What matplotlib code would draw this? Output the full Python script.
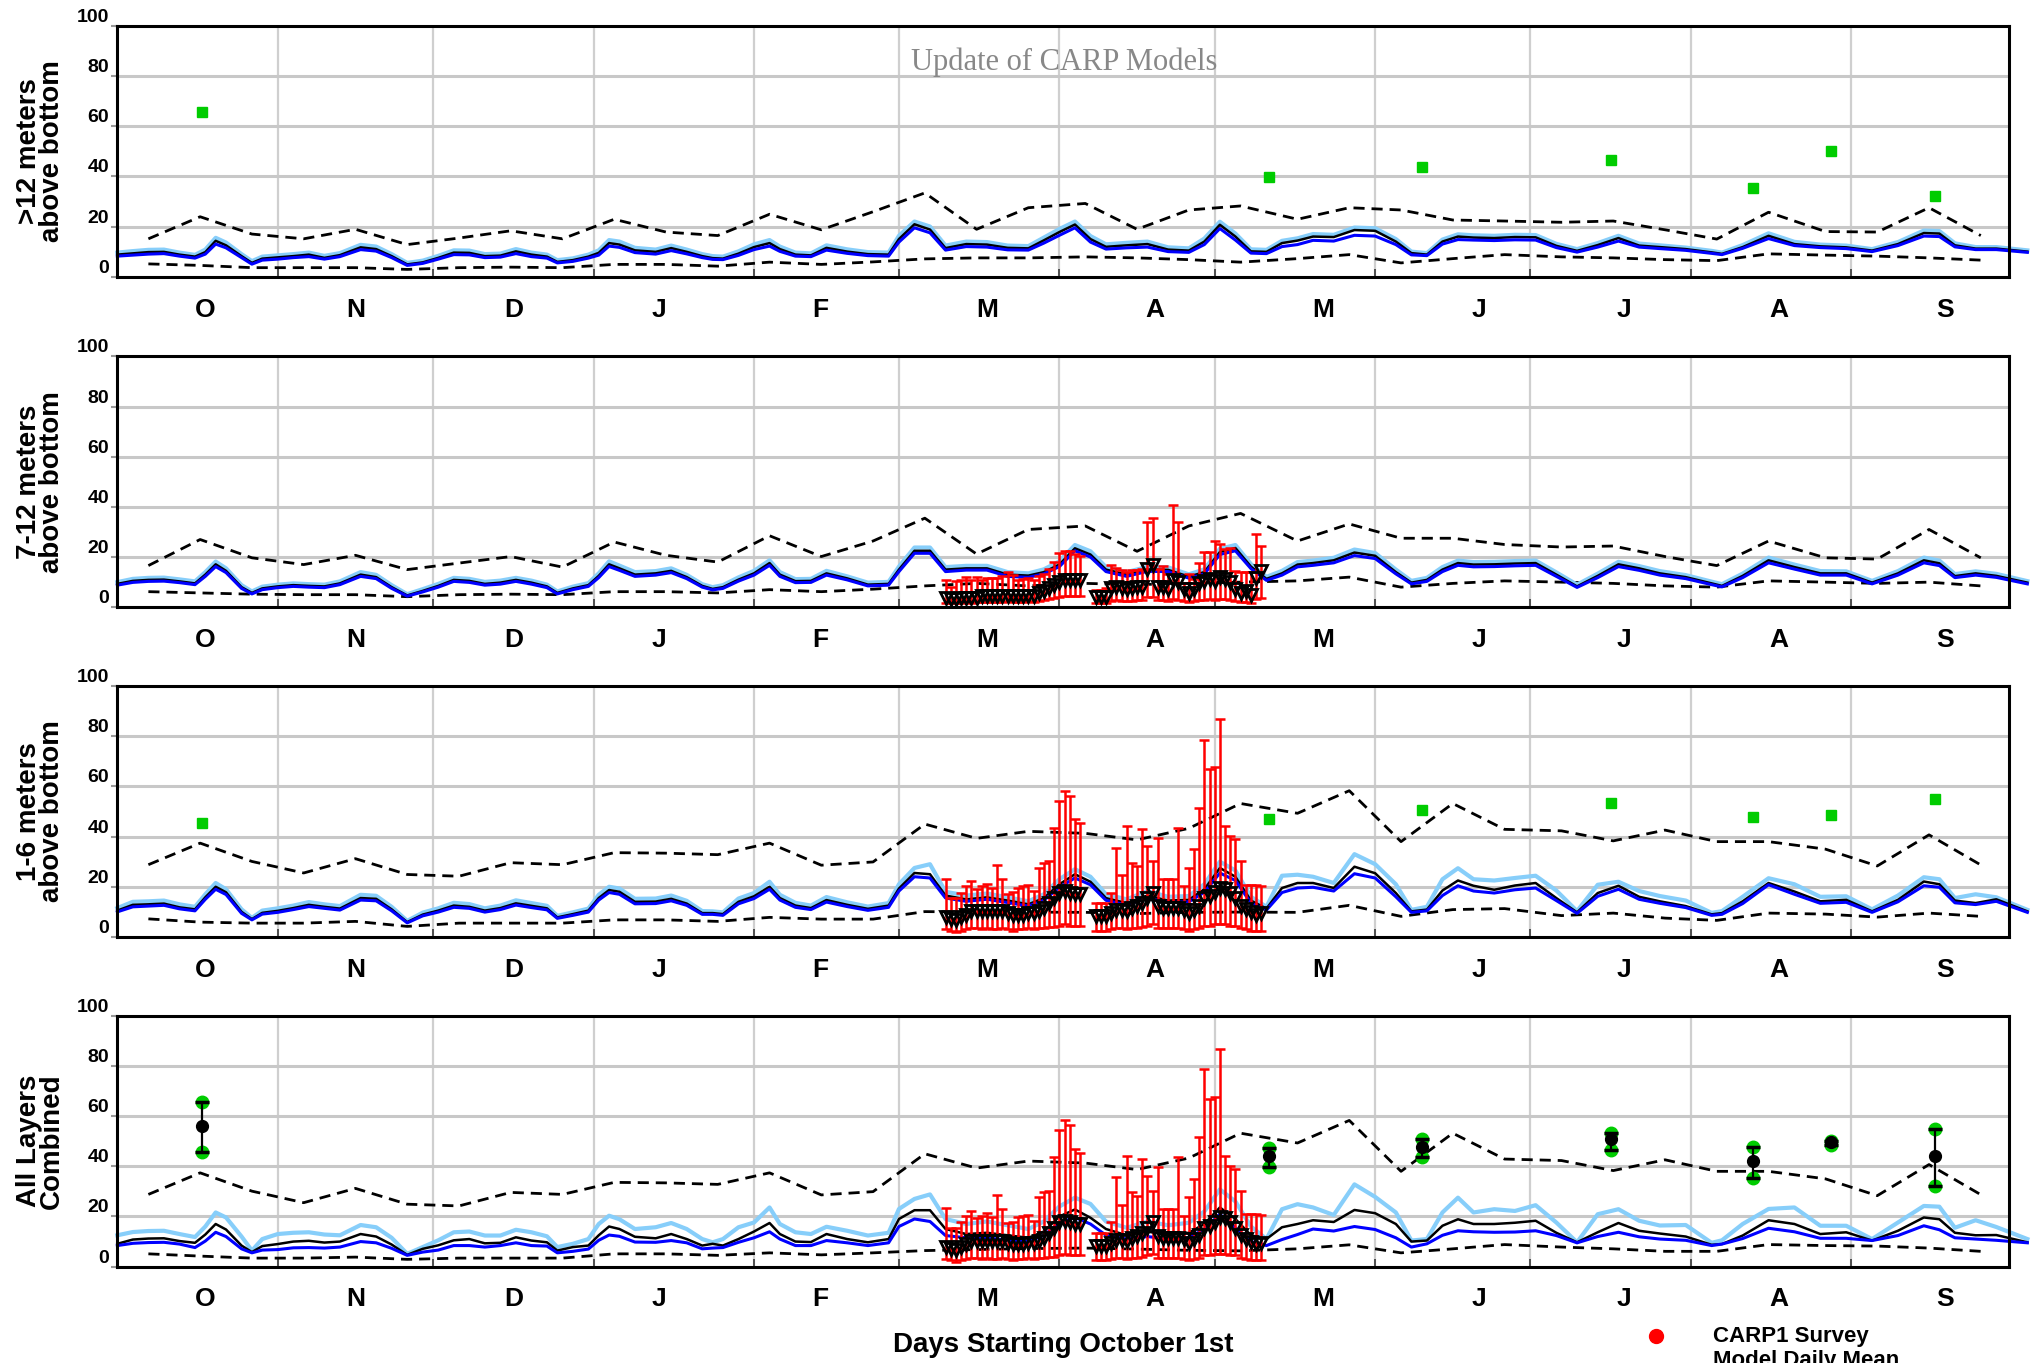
import matplotlib
matplotlib.use('Agg')
import matplotlib.pyplot as plt
import numpy as np
from matplotlib.lines import Line2D

plt.rcParams['font.family'] = ['Liberation Sans', 'DejaVu Sans']
plt.rcParams['font.weight'] = 'bold'

# ---- x axis: days starting October 1st ----
MONTHS = ['O', 'N', 'D', 'J', 'F', 'M', 'A', 'M', 'J', 'J', 'A', 'S']
MONTH_MID = [17, 46, 76.5, 104.6, 135.8, 168, 200.5, 233, 263, 291, 321, 353]
MONTH_START = [31, 61, 92, 123, 151, 182, 212, 243, 273, 304, 335]

# ---- daily model lines (sampled) ----
DAYS = [0, 3, 6, 9, 12, 15, 17, 19, 21, 24,
        26, 28, 31, 34, 37, 40, 43, 47, 50, 53,
        56, 59, 62, 65, 68, 71, 74, 77, 80, 83,
        85, 88, 91, 93, 95, 97, 100, 104, 107, 110,
        113, 115, 117, 120, 123, 126, 128, 131, 134, 137,
        141, 145, 149, 151, 154, 157, 160, 164, 168, 172,
        176, 179, 182, 185, 188, 191, 195, 199, 203, 207,
        210, 213, 216, 219, 222, 225, 228, 231, 235, 239,
        243, 247, 250, 253, 256, 259, 262, 266, 270, 274,
        278, 282, 286, 290, 294, 298, 303, 308, 310, 314,
        319, 324, 329, 334, 339, 344, 349, 352, 355, 359,
        363, 369]

# >12 m above bottom
P1_LIGHT = [9.6, 10.2, 10.7, 10.8, 9.6, 8.7, 10.8, 15.5, 13.6, 9.0,
            6.2, 8.0, 8.5, 9.0, 9.6, 8.3, 9.4, 12.7, 12.0, 9.0,
            5.5, 6.4, 8.3, 10.5, 10.4, 9.0, 9.2, 11.0, 9.6, 8.8,
            6.6, 7.3, 8.8, 10.5, 14.6, 14.0, 11.5, 10.8, 12.4, 10.8,
            9.0, 8.2, 8.0, 10.1, 12.9, 14.6, 12.0, 9.6, 9.3, 12.5,
            10.9, 9.8, 9.6, 16.3, 22.0, 20.0, 12.4, 14.0, 13.8, 12.4,
            12.2, 15.6, 19.0, 22.0, 16.2, 12.9, 13.5, 14.0, 11.7, 11.3,
            15.2, 21.9, 17.2, 10.9, 10.7, 14.3, 15.3, 17.0, 16.7, 19.6,
            19.3, 15.0, 10.0, 9.4, 14.8, 16.9, 16.5, 16.3, 16.7, 16.6,
            13.1, 11.0, 13.4, 16.3, 13.2, 12.5, 11.6, 10.3, 9.6, 12.6,
            17.3, 13.9, 12.8, 12.4, 11.0, 13.8, 18.4, 18.2, 13.3, 11.8,
            11.8, 10.5]
P1_MEAN = [8.8, 9.3, 9.8, 9.9, 8.8, 8.0, 9.8, 14.3, 12.5, 8.2,
           5.5, 7.2, 7.7, 8.2, 8.8, 7.5, 8.6, 11.7, 11.0, 8.2,
           4.9, 5.7, 7.5, 9.6, 9.5, 8.2, 8.4, 10.1, 8.8, 8.0,
           5.9, 6.6, 8.0, 9.5, 13.4, 12.8, 10.5, 9.9, 11.4, 9.9,
           8.2, 7.4, 7.2, 9.2, 11.8, 13.4, 11.0, 8.8, 8.5, 11.5,
           10.0, 9.0, 8.8, 15.0, 20.9, 18.8, 11.4, 13.0, 12.8, 11.5,
           11.3, 14.5, 17.8, 20.8, 15.0, 11.9, 12.5, 13.0, 10.8, 10.4,
           14.0, 20.7, 16.0, 10.1, 9.9, 13.4, 14.4, 16.0, 15.8, 18.6,
           18.3, 14.0, 9.4, 8.8, 14.0, 16.0, 15.6, 15.4, 15.8, 15.7,
           12.3, 10.3, 12.6, 15.4, 12.4, 11.8, 11.0, 9.7, 9.1, 11.8,
           16.3, 13.0, 12.1, 11.7, 10.4, 13.0, 17.4, 17.2, 12.5, 11.2,
           11.2, 10.0]
P1_DARK = [8.2, 8.6, 9.0, 9.2, 8.2, 7.4, 9.0, 13.0, 11.5, 7.6,
           5.0, 6.6, 7.0, 7.6, 8.0, 7.0, 8.0, 10.8, 10.2, 7.6,
           4.5, 5.3, 7.0, 8.8, 8.7, 7.6, 7.8, 9.2, 8.0, 7.4,
           5.5, 6.1, 7.4, 8.6, 12.2, 11.7, 9.6, 9.0, 10.4, 9.1,
           7.6, 6.9, 6.8, 8.5, 10.8, 12.2, 10.1, 8.2, 8.0, 10.6,
           9.3, 8.4, 8.2, 13.8, 19.5, 17.5, 10.6, 12.0, 11.8, 10.7,
           10.6, 13.4, 16.5, 19.5, 13.8, 11.0, 11.5, 11.8, 10.0, 9.7,
           12.8, 19.2, 14.6, 9.4, 9.2, 12.0, 12.8, 14.5, 14.2, 16.5,
           16.2, 12.8, 8.7, 8.4, 13.0, 14.8, 14.6, 14.4, 14.7, 14.6,
           11.6, 9.8, 11.8, 14.2, 11.8, 11.2, 10.5, 9.3, 8.8, 11.3,
           15.2, 12.4, 11.6, 11.2, 10.0, 12.4, 16.2, 16.0, 11.9, 10.8,
           10.8, 9.7]

# 7-12 m above bottom
P2_LIGHT = [10.0, 11.3, 11.7, 11.8, 11.1, 10.3, 14.0, 18.2, 15.5, 8.8,
            6.3, 8.2, 9.0, 9.5, 9.2, 9.0, 10.3, 14.0, 12.9, 8.8,
            5.2, 7.2, 9.3, 11.7, 11.3, 10.1, 10.6, 11.7, 10.6, 9.0,
            6.3, 8.2, 9.6, 13.5, 18.3, 16.6, 14.0, 14.4, 15.5, 12.9,
            9.2, 8.0, 8.8, 11.9, 14.5, 18.7, 14.0, 11.2, 11.3, 14.5,
            12.3, 9.8, 10.1, 16.2, 23.8, 23.8, 16.0, 16.5, 16.5, 14.0,
            13.5, 15.1, 18.3, 24.8, 22.3, 16.0, 14.0, 16.1, 15.9, 13.1,
            15.1, 23.3, 24.8, 17.2, 12.1, 14.5, 18.0, 18.6, 19.7, 23.0,
            21.6, 15.0, 10.5, 11.7, 16.0, 18.6, 18.0, 18.1, 18.4, 18.6,
            13.9, 9.0, 13.4, 18.1, 16.4, 14.4, 12.8, 10.2, 9.2, 13.4,
            19.8, 17.0, 14.4, 14.3, 10.5, 14.4, 19.8, 18.6, 13.2, 14.3,
            13.3, 10.4]
P2_MEAN = [9.3, 10.5, 10.9, 11.0, 10.3, 9.5, 13.0, 17.1, 14.5, 8.0,
           5.7, 7.5, 8.3, 8.8, 8.5, 8.3, 9.5, 13.0, 12.0, 8.0,
           4.7, 6.5, 8.5, 10.9, 10.5, 9.3, 9.8, 10.9, 9.8, 8.3,
           5.7, 7.5, 8.8, 12.5, 17.1, 15.5, 13.0, 13.5, 14.5, 12.0,
           8.5, 7.3, 8.0, 11.0, 13.5, 17.6, 13.0, 10.4, 10.5, 13.5,
           11.5, 9.0, 9.3, 15.0, 22.5, 22.5, 15.0, 15.5, 15.5, 13.0,
           12.6, 14.0, 17.0, 23.5, 21.0, 15.0, 13.0, 15.0, 14.9, 12.2,
           14.0, 22.0, 23.6, 16.2, 11.3, 13.5, 17.0, 17.6, 18.7, 21.8,
           20.5, 14.0, 9.8, 10.9, 15.0, 17.6, 17.0, 17.1, 17.4, 17.6,
           13.0, 8.3, 12.5, 17.1, 15.5, 13.5, 12.0, 9.5, 8.5, 12.5,
           18.7, 16.0, 13.5, 13.5, 9.8, 13.5, 18.7, 17.5, 12.4, 13.5,
           12.5, 9.8]
P2_DARK = [8.8, 9.9, 10.3, 10.4, 9.8, 9.0, 12.3, 16.2, 13.8, 7.5,
           5.3, 7.0, 7.8, 8.3, 8.0, 7.8, 9.0, 12.3, 11.4, 7.5,
           4.4, 6.1, 8.0, 10.3, 9.9, 8.8, 9.2, 10.3, 9.2, 7.8,
           5.3, 7.0, 8.3, 11.8, 16.2, 14.7, 12.3, 12.8, 13.8, 11.4,
           8.0, 6.9, 7.5, 10.4, 12.8, 16.7, 12.3, 9.8, 9.9, 12.8,
           10.9, 8.5, 8.8, 14.2, 21.5, 21.5, 14.2, 14.8, 14.8, 12.3,
           11.9, 13.3, 16.2, 22.5, 20.0, 14.2, 12.3, 14.3, 14.2, 11.6,
           13.3, 21.0, 22.5, 15.4, 10.7, 12.8, 16.1, 16.7, 17.7, 20.6,
           19.4, 13.3, 9.3, 10.3, 14.2, 16.7, 16.1, 16.2, 16.5, 16.7,
           12.3, 7.9, 11.8, 16.2, 14.7, 12.8, 11.4, 9.0, 8.1, 11.8,
           17.7, 15.2, 12.8, 12.8, 9.3, 12.8, 17.7, 16.6, 11.8, 12.8,
           11.9, 9.3]

# 1-6 m above bottom
P3_LIGHT = [11.5, 14.0, 14.2, 14.5, 13.0, 12.0, 17.0, 21.5, 19.0, 11.0,
            7.6, 10.5, 11.4, 12.5, 13.9, 13.0, 12.3, 16.8, 16.4, 12.0,
            6.4, 9.7, 11.4, 13.6, 13.1, 11.4, 12.5, 14.6, 13.5, 12.4,
            8.4, 9.8, 11.3, 16.8, 20.0, 19.3, 15.2, 15.3, 16.5, 14.4,
            10.3, 10.2, 9.8, 15.3, 17.5, 22.0, 16.8, 13.6, 12.5, 15.9,
            13.8, 12.1, 13.5, 21.0, 27.5, 29.0, 18.0, 16.5, 17.3, 15.8,
            14.2, 17.0, 23.0, 27.0, 24.0, 17.0, 15.0, 18.3, 16.0, 16.3,
            21.0, 30.0, 26.5, 16.0, 12.0, 24.4, 24.8, 24.0, 21.5, 33.0,
            29.0, 21.0, 10.8, 12.0, 23.0, 27.4, 23.0, 22.5, 23.5, 24.4,
            18.5, 10.3, 20.8, 22.0, 18.3, 16.3, 14.5, 9.6, 10.3, 16.0,
            23.4, 21.0, 16.0, 16.2, 11.0, 16.5, 23.8, 23.0, 15.5, 17.0,
            15.8, 10.8]
P3_MEAN = [10.5, 12.8, 13.0, 13.3, 11.8, 11.0, 15.8, 20.0, 17.8, 10.0,
           7.1, 9.6, 10.4, 11.5, 12.8, 12.0, 11.3, 15.5, 15.2, 11.0,
           5.9, 8.9, 10.5, 12.5, 12.0, 10.5, 11.5, 13.4, 12.4, 11.4,
           7.8, 9.1, 10.5, 15.5, 18.7, 18.0, 14.0, 14.1, 15.2, 13.3,
           9.5, 9.5, 9.1, 14.0, 16.2, 20.0, 15.5, 12.5, 11.5, 14.7,
           12.8, 11.2, 12.5, 19.3, 25.5, 25.0, 16.5, 15.0, 15.8, 14.5,
           13.0, 15.5, 21.0, 25.0, 22.0, 15.5, 13.5, 16.5, 14.5, 14.8,
           19.0, 27.5, 24.0, 14.5, 11.3, 19.5, 21.5, 21.5, 19.5, 28.0,
           25.4, 17.5, 10.2, 10.9, 18.5, 22.5, 20.4, 18.8, 20.5, 21.5,
           15.5, 9.8, 17.5, 20.4, 16.0, 14.2, 12.3, 9.0, 9.5, 14.2,
           21.5, 18.1, 14.2, 14.8, 10.2, 14.8, 22.1, 21.0, 14.5, 13.5,
           15.0, 10.2]
P3_DARK = [10.0, 12.0, 12.3, 12.6, 11.2, 10.4, 15.0, 19.0, 16.9, 9.4,
           6.8, 9.1, 9.8, 10.9, 12.1, 11.4, 10.7, 14.7, 14.4, 10.4,
           5.6, 8.4, 9.9, 11.8, 11.4, 9.9, 10.9, 12.7, 11.7, 10.8,
           7.4, 8.6, 9.9, 14.7, 17.7, 17.0, 13.2, 13.3, 14.4, 12.6,
           9.0, 9.0, 8.6, 13.2, 15.3, 19.0, 14.7, 11.8, 10.9, 13.9,
           12.1, 10.6, 11.8, 18.3, 24.0, 23.5, 15.5, 14.2, 15.0, 13.7,
           12.3, 14.6, 19.8, 23.5, 20.8, 14.6, 12.7, 15.5, 13.7, 14.0,
           17.8, 25.5, 22.5, 13.5, 10.7, 17.7, 19.5, 19.8, 18.3, 25.2,
           23.5, 16.0, 9.8, 10.4, 16.5, 20.4, 18.3, 17.5, 18.8, 19.5,
           14.5, 9.4, 16.2, 19.0, 15.0, 13.4, 11.7, 8.6, 9.0, 13.3,
           20.8, 17.0, 13.4, 13.8, 9.8, 14.0, 20.4, 19.8, 13.6, 12.9,
           14.2, 9.8]

# all layers combined
P4_LIGHT = [12.5, 13.8, 14.2, 14.3, 13.0, 11.8, 16.0, 21.6, 19.6, 12.0,
            6.4, 11.0, 13.0, 13.5, 13.7, 12.8, 12.5, 16.6, 15.7, 11.5,
            5.1, 7.8, 10.5, 13.7, 14.0, 12.4, 12.4, 14.7, 13.7, 12.1,
            7.8, 9.1, 11.0, 17.0, 20.3, 18.9, 15.0, 15.7, 17.4, 15.0,
            11.0, 9.7, 11.0, 15.7, 17.6, 23.6, 17.0, 13.7, 13.0, 15.9,
            14.3, 12.4, 13.5, 23.0, 27.0, 28.8, 19.0, 17.0, 18.0, 16.5,
            15.0, 18.0, 24.0, 27.5, 25.0, 18.0, 15.5, 18.0, 16.5, 17.5,
            22.0, 30.8, 26.0, 16.0, 11.0, 22.9, 24.9, 23.6, 20.6, 32.8,
            27.8, 21.6, 10.4, 11.0, 21.6, 27.5, 21.6, 22.9, 22.2, 24.5,
            17.6, 9.7, 20.9, 22.9, 18.3, 16.4, 16.6, 9.5, 10.5, 17.0,
            23.0, 23.6, 16.3, 16.3, 11.0, 17.6, 24.2, 23.9, 15.5, 18.5,
            15.8, 11.0]
P4_MEAN = [9.1, 10.8, 11.2, 11.3, 10.2, 9.5, 12.8, 17.0, 14.8, 8.4,
           5.8, 8.2, 9.0, 10.0, 10.3, 9.6, 10.0, 13.0, 12.0, 8.8,
           4.7, 7.1, 8.5, 10.5, 11.0, 9.3, 9.5, 11.7, 10.4, 9.7,
           6.4, 7.8, 8.4, 12.5, 16.0, 15.0, 11.9, 11.3, 13.0, 11.0,
           8.4, 9.1, 8.4, 11.0, 14.0, 17.4, 13.0, 10.0, 9.8, 13.0,
           11.0, 9.7, 11.0, 19.0, 22.5, 22.5, 15.0, 13.0, 13.5, 12.5,
           11.5, 14.0, 20.0, 22.8, 19.5, 15.0, 12.5, 14.0, 12.5, 13.5,
           17.0, 23.6, 19.0, 12.5, 11.0, 15.7, 17.0, 18.5, 17.8, 22.6,
           21.3, 17.0, 10.0, 10.4, 16.3, 18.9, 17.0, 17.0, 17.5, 18.3,
           13.5, 9.7, 13.7, 17.4, 14.3, 13.2, 12.0, 8.7, 9.0, 12.4,
           18.5, 17.0, 13.0, 13.7, 10.4, 14.3, 19.6, 18.9, 13.5, 12.5,
           12.6, 9.7]
P4_DARK = [8.4, 9.3, 9.6, 9.7, 9.0, 7.6, 10.2, 13.7, 12.0, 7.1,
           5.5, 6.6, 6.8, 7.5, 7.6, 7.4, 7.8, 10.0, 9.5, 7.3,
           4.5, 5.8, 6.6, 8.4, 8.4, 7.8, 8.4, 9.5, 8.4, 8.2,
           5.5, 6.1, 7.0, 10.5, 12.6, 12.1, 9.8, 9.7, 10.4, 9.5,
           7.1, 7.4, 7.6, 9.7, 11.5, 13.9, 11.0, 8.4, 8.4, 10.4,
           9.5, 8.4, 9.5, 16.0, 19.0, 18.0, 12.4, 11.5, 11.5, 10.5,
           10.0, 12.5, 17.5, 19.6, 17.0, 12.5, 11.0, 12.0, 11.0, 11.5,
           15.0, 20.9, 15.5, 10.0, 8.4, 10.8, 12.8, 15.0, 14.2, 16.0,
           14.8, 11.5, 7.8, 9.1, 12.5, 14.3, 13.9, 13.7, 13.8, 14.3,
           12.4, 9.5, 12.0, 13.7, 11.9, 11.0, 10.5, 8.4, 9.0, 11.2,
           15.3, 13.9, 11.3, 11.3, 10.4, 12.4, 16.3, 14.7, 11.5, 11.0,
           10.5, 9.5]

# ---- dashed envelope lines ----
ENV_DAYS = [6, 16, 26, 36, 46, 56, 66, 76, 86, 96, 106, 116, 126, 136, 146, 156, 166, 176,
            187, 197, 207, 217, 228, 238, 248, 258, 268, 279, 289, 299, 309, 319, 330, 340, 350, 360]
P1_UPPER = [15.1, 23.9, 17, 15.1, 18.9, 12.8, 15.4, 18.3, 15.1, 22.9, 17.8, 16.4, 24.9, 18.7, 25.9, 33.4, 18.9, 27.5,
            29.2, 18.9, 26.6, 28.2, 22.9, 27.5, 26.6, 22.6, 22.2, 21.7, 22.2, 18.7, 15.0, 25.7, 18.0, 17.8, 27.5, 16.4]
P1_LOWER = [5.1, 4.5, 3.6, 3.6, 3.6, 2.9, 3.6, 3.8, 3.6, 4.9, 4.9, 4.2, 5.8, 4.9, 5.9, 7.1, 7.5, 7.5,
            7.9, 7.5, 6.8, 5.8, 7.2, 8.8, 5.5, 7.2, 8.8, 7.9, 7.5, 6.8, 6.4, 9.1, 8.6, 8.2, 7.5, 6.6]
P2_UPPER = [16.6, 27, 19.7, 17, 20.7, 15, 17.6, 20.2, 16, 26, 20.7, 18, 28.5, 20.2, 26.4, 35.5, 21.2, 31,
            32.4, 22.3, 32.4, 37.4, 26.4, 33.2, 27.5, 27.5, 25, 24, 24.4, 20.2, 16.6, 26.4, 19.7, 19.2, 31, 19.7]
P2_LOWER = [6.2, 5.7, 5.2, 5.0, 5.0, 4.2, 5.0, 5.2, 5.0, 6.2, 6.2, 5.7, 7.0, 6.2, 7.2, 8.5, 9.5, 8.5,
            9.5, 9.0, 9.5, 10.0, 10.5, 12.0, 8.0, 9.5, 10.5, 10.0, 9.5, 8.5, 8.0, 10.5, 10.0, 9.5, 10.0, 8.5]
P3_UPPER = [28.8, 37.4, 30.1, 25.5, 31.2, 24.9, 24.2, 29.6, 28.8, 33.6, 33.4, 32.8, 37.4, 28.6, 29.9, 45.0, 39.3, 42.1,
            41.3, 38.7, 43.3, 53.2, 49.3, 58.3, 38.0, 53.2, 42.9, 42.3, 38.3, 42.6, 38.0, 38.0, 35.0, 28.3, 40.7, 28.7]
P3_LOWER = [7.2, 5.9, 5.5, 5.5, 6.2, 4.2, 5.5, 5.5, 5.5, 6.8, 6.8, 6.2, 7.8, 7.1, 7.1, 10.1, 9.9, 9.9,
            9.8, 9.3, 9.8, 9.9, 9.8, 12.6, 8.2, 10.9, 11.3, 8.5, 9.5, 7.5, 6.6, 9.5, 9.1, 7.9, 9.5, 8.2]
P4_LOWER = [5.1, 4.2, 3.4, 3.4, 3.8, 2.9, 3.4, 3.4, 3.4, 5.1, 5.1, 4.5, 5.5, 4.7, 5.5, 6.4, 6.8, 7.2,
            7.4, 7.0, 6.5, 6.3, 7.1, 8.7, 5.5, 7.1, 8.8, 7.8, 7.1, 6.1, 6.1, 8.8, 8.4, 8.2, 7.4, 6.1]

# ---- CARP1 survey (daily, with ranges) ----
SURVEY_DAYS = [160, 161, 162, 163, 164, 165, 166, 167, 168, 169, 170, 171, 172, 173, 174, 175, 176, 177,
               178, 179, 180, 181, 182, 183, 184, 185, 186,
               189, 190, 191, 192, 193, 194, 195, 196, 197, 198, 199, 200, 201, 202, 203, 204, 205, 206,
               207, 208, 209, 210, 211, 212, 213, 214, 215, 216, 217, 218, 219, 220, 221]
S2_MEAN = [3.8, 3.4, 3.4, 3.8, 3.8, 3.8, 3.8, 4.5, 4.5, 4.5, 4.5, 4.5, 4.5, 4.5, 4.5, 4.5, 4.5, 4.5,
           5.6, 6.5, 7.5, 8.8, 9.9, 11.0, 11.0, 11.0, 11.0,
           4.2, 4.2, 4.2, 7.8, 8.2, 7.8, 7.1, 7.8, 8.2, 8.2, 15.3, 16.7, 8.2, 8.2, 7.3, 11.0, 10.2, 7.1,
           5.8, 7.3, 9.5, 10.5, 11.2, 10.5, 11.9, 11.2, 9.9, 7.1, 5.8, 6.4, 5.0, 11.5, 14.6]
S2_HIGH = [11, 8, 10.5, 11, 12.2, 11, 12.2, 10.9, 11.6, 11.6, 11.6, 12.6, 14.2, 12.9, 11, 11.3, 11.7, 11,
           12.6, 13.3, 15.2, 18.2, 21.8, 22.4, 22.4, 21.4, 20.4,
           7, 6.8, 7.7, 17, 15.7, 15, 14, 15, 15, 15.3, 33.8, 35.4, 15.3, 16.3, 13.4, 40.6, 33.8, 9.8,
           13.4, 11.2, 17.6, 21.9, 21.9, 26.3, 25.3, 23.3, 23.5, 14.6, 14.2, 14.2, 14.2, 29, 24.4]
S2_LOW = [1.8, 1.5, 1.6, 1.8, 2.0, 1.8, 2.0, 2.2, 2.0, 2.2, 2.0, 2.2, 2.4, 2.2, 2.0, 2.2, 2.4, 2.2,
          2.6, 3.0, 3.2, 3.6, 4.2, 4.6, 4.6, 4.4, 4.4,
          1.6, 1.6, 1.8, 2.6, 2.8, 2.6, 2.4, 2.6, 2.8, 2.8, 4.0, 4.2, 2.8, 2.8, 2.5, 3.2, 3.0, 2.4,
          2.0, 2.4, 2.8, 3.0, 3.2, 3.0, 3.4, 3.2, 3.0, 2.4, 2.0, 2.2, 1.8, 3.2, 3.8]
S3_MEAN = [8.0, 7.2, 6.7, 8.0, 8.9, 10.3, 10.3, 10.3, 10.3, 10.3, 10.3, 10.3, 9.6, 8.9, 8.9, 8.9, 9.6, 9.6,
           10.3, 11.6, 13.6, 15.6, 17.6, 18.3, 17.6, 17.0, 17.0,
           8.3, 8.3, 8.3, 9.6, 10.7, 10.7, 10.3, 11.6, 12.3, 13.6, 15.6, 17.6, 12.3, 11.6, 11.6, 11.6, 11.6, 10.9,
           9.6, 10.9, 12.5, 15.6, 16.3, 17.9, 19.6, 19.2, 17.6, 15.6, 12.5, 11.2, 9.8, 8.9, 9.6]
S3_HIGH = [23.2, 15.6, 15.6, 17.6, 20.3, 22.3, 19.2, 20.3, 21.3, 19.6, 28.5, 22.9, 17.3, 17.9, 19.6, 20.3, 20.6, 18.3,
           27.6, 29.6, 30.3, 43.6, 54.3, 58.3, 56.3, 46.9, 45.3,
           13.6, 13.6, 13.6, 17.6, 35.6, 24.5, 44.3, 29.6, 28.3, 42.9, 36.3, 30.3, 39.6, 22.9, 22.9, 22.9, 43.6, 20.3,
           27.6, 34.9, 51.6, 78.7, 67.0, 67.6, 86.9, 44.3, 40.3, 38.9, 30.3, 20.9, 20.9, 20.9, 20.5]
S3_LOW = [3.0, 2.5, 2.0, 2.5, 3.0, 3.5, 3.5, 3.0, 3.5, 3.0, 3.0, 3.5, 3.0, 2.5, 3.0, 3.0, 3.5, 3.0,
          3.5, 3.5, 4.0, 4.0, 4.5, 5.0, 4.5, 4.5, 4.5,
          2.5, 2.5, 2.5, 3.0, 3.5, 3.5, 3.0, 3.5, 3.5, 4.0, 4.5, 5.0, 3.5, 3.5, 3.5, 3.5, 3.5, 3.0,
          2.5, 3.0, 3.5, 4.5, 4.5, 5.0, 5.0, 5.0, 4.5, 4.5, 3.5, 3.0, 2.5, 2.5, 2.5]

# ---- layer estimates (green) and combined ----
EST_DAYS = [16.4, 222.5, 252, 288.5, 316, 331, 351.2]
EST_TOP = [65.6, 39.6, 43.75, 46.4, 35.4, 50.0, 32.3]
EST_BOTTOM = [45.6, 47.2, 50.8, 53.4, 47.7, 48.7, 54.9]
EST_COMBINED = [56.0, 44.3, 47.9, 51.0, 42.2, 49.7, 44.3]

LABELS = ['>12 meters\nabove bottom', '7-12 meters\nabove bottom',
          '1-6 meters\nabove bottom', 'All Layers\nCombined']

GREEN = '#00CC00'
LIGHT = '#87CEFA'


def setup_axes(ax):
    ax.set_xlim(0, 365.5)
    ax.set_ylim(0, 100)
    ax.set_yticks([0, 20, 40, 60, 80, 100])
    ax.set_xticks(MONTH_MID)
    ax.set_xticklabels(MONTHS)
    ax.set_xticks(MONTH_START, minor=True)
    ax.set_axisbelow(True)
    ax.grid(True, which='minor', axis='x', color='#cfcfcf', lw=1.6)
    ax.grid(True, which='major', axis='y', color='#c8c8c8', lw=2.2)
    ax.tick_params(axis='x', which='major', length=0, pad=15, labelsize=19)
    ax.tick_params(axis='x', which='minor', direction='in', length=6, width=1.3, color='#444444')
    ax.tick_params(axis='y', length=4, width=1.5, color='#999999', pad=2, labelsize=14)
    for lab in ax.get_yticklabels():
        lab.set_va('bottom')
    for s in ax.spines.values():
        s.set_linewidth(2.2)


def draw_model(ax, light, mean, dark, upper, lower):
    ax.plot(ENV_DAYS, upper, color='black', lw=2, dashes=(4, 2.5))
    ax.plot(ENV_DAYS, lower, color='black', lw=2, dashes=(4, 2.5))
    ax.plot(DAYS, light, color=LIGHT, lw=3.0, clip_on=False)
    ax.plot(DAYS, mean, color='black', lw=1.8, clip_on=False)
    ax.plot(DAYS, dark, color='#0000FF', lw=2.2, clip_on=False)


def draw_survey(ax, mean, low, high):
    mean = np.array(mean)
    err = [mean - np.array(low), np.array(high) - mean]
    ax.errorbar(SURVEY_DAYS, mean, yerr=err, fmt='none', ecolor='red',
                elinewidth=1.8, capsize=3.5, capthick=1.8)
    ax.plot(SURVEY_DAYS, mean, 'v', mfc='none', mec='black', mew=2, ms=8.5, ls='none')


fig = plt.figure(figsize=(20.44, 13.63), dpi=100)
left, width, height = 0.0574, 0.9256, 0.184
bottoms = [0.797, 0.5545, 0.3126, 0.0707]
axes = [fig.add_axes([left, b, width, height]) for b in bottoms]
for ax in axes:
    setup_axes(ax)

draw_model(axes[0], P1_LIGHT, P1_MEAN, P1_DARK, P1_UPPER, P1_LOWER)
axes[0].plot(EST_DAYS, EST_TOP, 's', color=GREEN, ms=6.5, ls='none')

draw_model(axes[1], P2_LIGHT, P2_MEAN, P2_DARK, P2_UPPER, P2_LOWER)
draw_survey(axes[1], S2_MEAN, S2_LOW, S2_HIGH)

draw_model(axes[2], P3_LIGHT, P3_MEAN, P3_DARK, P3_UPPER, P3_LOWER)
draw_survey(axes[2], S3_MEAN, S3_LOW, S3_HIGH)
axes[2].plot(EST_DAYS, EST_BOTTOM, 's', color=GREEN, ms=6.5, ls='none')

draw_model(axes[3], P4_LIGHT, P4_MEAN, P4_DARK, P3_UPPER, P4_LOWER)
draw_survey(axes[3], S3_MEAN, S3_LOW, S3_HIGH)
comb = np.array(EST_COMBINED)
lo = np.minimum(EST_TOP, EST_BOTTOM)
hi = np.maximum(EST_TOP, EST_BOTTOM)
axes[3].plot(EST_DAYS, EST_TOP, 'o', color=GREEN, ms=9, ls='none')
axes[3].plot(EST_DAYS, EST_BOTTOM, 'o', color=GREEN, ms=9, ls='none')
axes[3].errorbar(EST_DAYS, comb, yerr=[comb - lo, hi - comb], fmt='o', color='black',
                 ms=8.5, elinewidth=1.6, capsize=5, capthick=2.5)

for b, lab in zip(bottoms, LABELS):
    fig.text(0.0198, b + height / 2, lab, rotation=90, ha='center', va='center',
             fontsize=20, linespacing=0.88, multialignment='center')

fig.text(0.5204, 0.954, 'Update of CARP Models', ha='center', va='center', fontsize=22,
         fontweight='normal', color='#888888', family=['Liberation Serif', 'DejaVu Serif'])
fig.text(0.5204, 0.0134, 'Days Starting October 1st', ha='center', va='center', fontsize=20)

# legend, partly running off the bottom edge as in the original
fig.add_artist(Line2D([0.81], [0.0195], marker='o', color='red', ms=10, ls='none',
                      transform=fig.transFigure))
fig.text(0.838, 0.0195, 'CARP1 Survey', ha='left', va='center', fontsize=16)
fig.text(0.838, 0.0015, 'Model Daily Mean', ha='left', va='center', fontsize=16)

fig.savefig('out.png', dpi=100)
